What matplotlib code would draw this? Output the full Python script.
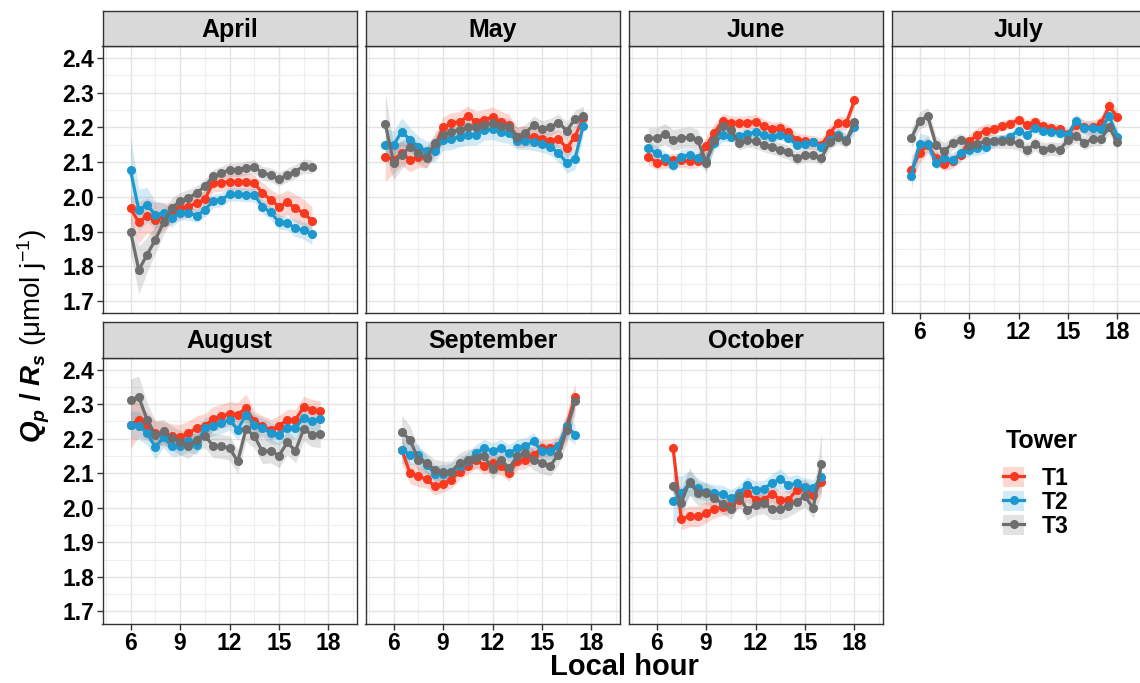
import numpy as np
import matplotlib
matplotlib.use("Agg")
import matplotlib.pyplot as plt
from matplotlib.patches import Patch
from matplotlib.lines import Line2D
from matplotlib.ticker import MultipleLocator

plt.rcParams['font.family'] = ['Liberation Sans', 'DejaVu Sans']
plt.rcParams['mathtext.fontset'] = 'custom'
plt.rcParams['mathtext.rm'] = 'Liberation Sans'
plt.rcParams['mathtext.it'] = 'Liberation Sans:italic'
plt.rcParams['mathtext.bf'] = 'Liberation Sans:bold'
plt.rcParams['mathtext.bfit'] = 'Liberation Sans:italic:bold'

# half-hourly diurnal means of Qp/Rs per tower, with ribbon half-widths
months = ['April', 'May', 'June', 'July', 'August', 'September', 'October']
first_hour = [6.0, 5.5, 5.5, 5.5, 6.0, 6.5, 7.0]
last_hour = [17.0, 17.5, 18.0, 18.0, 17.5, 17.0, 16.0]

apr_t1 = [1.967, 1.926, 1.946, 1.934, 1.943, 1.953, 1.967, 1.972, 1.982, 1.993, 2.039, 2.041,
          2.044, 2.044, 2.044, 2.039, 2.011, 1.991, 1.972, 1.984, 1.967, 1.953, 1.931]
apr_t2 = [2.076, 1.962, 1.977, 1.948, 1.953, 1.938, 1.953, 1.953, 1.946, 1.962, 1.988, 1.991,
          2.008, 2.008, 2.006, 2.006, 1.972, 1.955, 1.927, 1.924, 1.910, 1.903, 1.892]
apr_t3 = [1.900, 1.789, 1.833, 1.876, 1.926, 1.967, 1.987, 1.996, 2.011, 2.030, 2.059, 2.068,
          2.078, 2.078, 2.083, 2.087, 2.068, 2.063, 2.051, 2.063, 2.073, 2.089, 2.086]
apr_se1 = [0.04, 0.06, 0.05, 0.05, 0.04, 0.03, 0.03, 0.03, 0.025, 0.025, 0.025, 0.025,
           0.025, 0.025, 0.025, 0.025, 0.03, 0.03, 0.035, 0.035, 0.04, 0.04, 0.04]
apr_se2 = [0.10, 0.06, 0.05, 0.04, 0.03, 0.025, 0.02, 0.02, 0.02, 0.02, 0.02, 0.02,
           0.02, 0.02, 0.02, 0.02, 0.02, 0.02, 0.02, 0.02, 0.025, 0.025, 0.03]
apr_se3 = [0.06, 0.07, 0.05, 0.04, 0.035, 0.03, 0.025, 0.025, 0.02, 0.02, 0.02, 0.02,
           0.02, 0.02, 0.02, 0.02, 0.02, 0.02, 0.02, 0.02, 0.02, 0.02, 0.02]

may_t1 = [2.116, 2.107, 2.126, 2.107, 2.114, 2.114, 2.145, 2.201, 2.212, 2.217, 2.232, 2.217,
          2.222, 2.230, 2.217, 2.208, 2.172, 2.174, 2.172, 2.166, 2.162, 2.168, 2.140, 2.174, 2.227]
may_t2 = [2.150, 2.150, 2.188, 2.164, 2.145, 2.131, 2.131, 2.164, 2.166, 2.174, 2.179, 2.179,
          2.193, 2.195, 2.188, 2.184, 2.162, 2.162, 2.159, 2.153, 2.145, 2.126, 2.099, 2.109, 2.205]
may_t3 = [2.211, 2.099, 2.121, 2.145, 2.126, 2.112, 2.155, 2.179, 2.188, 2.193, 2.201, 2.201,
          2.208, 2.212, 2.205, 2.201, 2.174, 2.184, 2.208, 2.195, 2.201, 2.214, 2.191, 2.224, 2.232]
may_se1 = [0.07, 0.04, 0.035, 0.035, 0.03, 0.03, 0.03, 0.03, 0.03, 0.03, 0.03, 0.03,
           0.03, 0.03, 0.03, 0.03, 0.03, 0.03, 0.025, 0.025, 0.025, 0.025, 0.03, 0.03, 0.03]
may_se2 = [0.05, 0.04, 0.04, 0.035, 0.03, 0.03, 0.03, 0.03, 0.03, 0.03, 0.03, 0.03,
           0.03, 0.03, 0.03, 0.03, 0.025, 0.025, 0.025, 0.025, 0.025, 0.025, 0.03, 0.03, 0.03]
may_se3 = [0.09, 0.05, 0.04, 0.035, 0.03, 0.03, 0.03, 0.03, 0.025, 0.025, 0.025, 0.025,
           0.025, 0.025, 0.025, 0.025, 0.025, 0.025, 0.025, 0.025, 0.025, 0.025, 0.025, 0.025, 0.03]

jun_t1 = [2.116, 2.099, 2.102, 2.105, 2.105, 2.102, 2.104, 2.147, 2.184, 2.220, 2.214, 2.212, 2.214,
          2.217, 2.205, 2.195, 2.198, 2.186, 2.164, 2.160, 2.157, 2.150, 2.184, 2.212, 2.212, 2.278]
jun_t2 = [2.140, 2.126, 2.112, 2.092, 2.116, 2.121, 2.112, 2.102, 2.155, 2.179, 2.174, 2.176, 2.182,
          2.186, 2.179, 2.172, 2.179, 2.169, 2.150, 2.153, 2.157, 2.143, 2.164, 2.179, 2.164, 2.201]
jun_t3 = [2.169, 2.169, 2.182, 2.164, 2.169, 2.172, 2.164, 2.099, 2.164, 2.205, 2.193, 2.155, 2.164,
          2.160, 2.150, 2.143, 2.136, 2.128, 2.112, 2.121, 2.121, 2.112, 2.157, 2.174, 2.160, 2.217]
jun_se1 = [0.025, 0.02, 0.02, 0.02, 0.02, 0.02, 0.02, 0.025, 0.025, 0.02, 0.02, 0.02, 0.02,
           0.02, 0.02, 0.02, 0.02, 0.02, 0.02, 0.02, 0.02, 0.02, 0.02, 0.02, 0.02, 0.02]
jun_se2 = [0.02, 0.02, 0.02, 0.02, 0.02, 0.02, 0.02, 0.025, 0.02, 0.02, 0.015, 0.015, 0.015,
           0.015, 0.015, 0.015, 0.015, 0.015, 0.015, 0.015, 0.015, 0.015, 0.02, 0.02, 0.02, 0.02]
jun_se3 = [0.03, 0.03, 0.03, 0.03, 0.03, 0.03, 0.03, 0.03, 0.025, 0.02, 0.02, 0.02, 0.02,
           0.02, 0.02, 0.02, 0.02, 0.02, 0.02, 0.02, 0.02, 0.02, 0.02, 0.02, 0.02, 0.02]

jul_t1 = [2.078, 2.126, 2.150, 2.112, 2.095, 2.102, 2.121, 2.160, 2.179, 2.191, 2.195, 2.205, 2.211,
          2.222, 2.208, 2.217, 2.205, 2.198, 2.195, 2.182, 2.208, 2.201, 2.201, 2.212, 2.261, 2.230]
jul_t2 = [2.061, 2.153, 2.153, 2.099, 2.112, 2.105, 2.126, 2.136, 2.140, 2.145, 2.160, 2.164, 2.174,
          2.191, 2.179, 2.198, 2.191, 2.188, 2.184, 2.179, 2.220, 2.198, 2.198, 2.195, 2.232, 2.174]
jul_t3 = [2.169, 2.220, 2.232, 2.150, 2.131, 2.155, 2.164, 2.147, 2.153, 2.160, 2.160, 2.160, 2.160,
          2.155, 2.134, 2.153, 2.136, 2.140, 2.136, 2.164, 2.176, 2.155, 2.167, 2.167, 2.201, 2.157]
jul_se1 = [0.04, 0.03, 0.025, 0.02, 0.02, 0.02, 0.02, 0.02, 0.02, 0.02, 0.015, 0.015, 0.015,
           0.015, 0.015, 0.015, 0.015, 0.015, 0.015, 0.015, 0.02, 0.02, 0.02, 0.02, 0.025, 0.02]
jul_se2 = [0.04, 0.03, 0.025, 0.02, 0.02, 0.02, 0.02, 0.02, 0.02, 0.02, 0.015, 0.015, 0.015,
           0.015, 0.015, 0.015, 0.015, 0.015, 0.015, 0.015, 0.02, 0.02, 0.02, 0.02, 0.02, 0.02]
jul_se3 = [0.03, 0.025, 0.025, 0.025, 0.025, 0.02, 0.02, 0.02, 0.02, 0.02, 0.02, 0.02, 0.02,
           0.02, 0.02, 0.02, 0.02, 0.02, 0.02, 0.02, 0.02, 0.02, 0.02, 0.02, 0.02, 0.02]

aug_t1 = [2.241, 2.255, 2.236, 2.216, 2.214, 2.208, 2.206, 2.216, 2.231, 2.237, 2.257, 2.265,
          2.272, 2.270, 2.289, 2.250, 2.237, 2.226, 2.237, 2.255, 2.255, 2.292, 2.284, 2.279]
aug_t2 = [2.241, 2.238, 2.216, 2.176, 2.204, 2.178, 2.180, 2.192, 2.183, 2.231, 2.238, 2.245,
          2.255, 2.226, 2.270, 2.241, 2.231, 2.216, 2.212, 2.231, 2.231, 2.260, 2.250, 2.257]
aug_t3 = [2.313, 2.321, 2.255, 2.212, 2.221, 2.202, 2.189, 2.178, 2.197, 2.209, 2.180, 2.178,
          2.173, 2.134, 2.228, 2.208, 2.163, 2.165, 2.151, 2.189, 2.165, 2.228, 2.212, 2.214]
aug_se1 = [0.07, 0.05, 0.04, 0.035, 0.035, 0.035, 0.035, 0.035, 0.035, 0.035, 0.035, 0.035,
           0.035, 0.035, 0.04, 0.03, 0.03, 0.03, 0.03, 0.03, 0.03, 0.03, 0.03, 0.03]
aug_se2 = [0.04, 0.04, 0.035, 0.035, 0.03, 0.03, 0.03, 0.03, 0.03, 0.03, 0.03, 0.03,
           0.03, 0.03, 0.03, 0.03, 0.03, 0.03, 0.03, 0.03, 0.03, 0.03, 0.03, 0.03]
aug_se3 = [0.06, 0.06, 0.05, 0.04, 0.035, 0.035, 0.035, 0.035, 0.035, 0.035, 0.035, 0.035,
           0.035, 0.035, 0.035, 0.035, 0.035, 0.035, 0.035, 0.035, 0.035, 0.035, 0.035, 0.04]

sep_t1 = [2.168, 2.100, 2.091, 2.083, 2.062, 2.070, 2.081, 2.105, 2.122, 2.139, 2.122,
          2.129, 2.120, 2.102, 2.134, 2.139, 2.154, 2.173, 2.173, 2.178, 2.236, 2.321]
sep_t2 = [2.168, 2.154, 2.154, 2.125, 2.099, 2.099, 2.105, 2.120, 2.134, 2.158, 2.173,
          2.163, 2.173, 2.158, 2.173, 2.178, 2.192, 2.163, 2.163, 2.178, 2.236, 2.212]
sep_t3 = [2.218, 2.197, 2.139, 2.129, 2.110, 2.105, 2.105, 2.129, 2.139, 2.144, 2.149,
          2.112, 2.139, 2.115, 2.149, 2.160, 2.139, 2.129, 2.122, 2.154, 2.226, 2.308]
sep_se1 = [0.04, 0.03, 0.03, 0.025, 0.025, 0.025, 0.025, 0.025, 0.025, 0.025, 0.025,
           0.025, 0.025, 0.025, 0.025, 0.025, 0.025, 0.025, 0.025, 0.03, 0.04, 0.04]
sep_se2 = [0.04, 0.03, 0.03, 0.025, 0.025, 0.025, 0.025, 0.025, 0.025, 0.025, 0.025,
           0.025, 0.025, 0.025, 0.025, 0.025, 0.025, 0.025, 0.025, 0.025, 0.03, 0.03]
sep_se3 = [0.05, 0.04, 0.035, 0.03, 0.03, 0.03, 0.03, 0.03, 0.03, 0.03, 0.03,
           0.03, 0.03, 0.03, 0.03, 0.03, 0.03, 0.03, 0.03, 0.03, 0.04, 0.04]

oct_t1 = [2.173, 1.967, 1.975, 1.975, 1.986, 1.996, 2.002, 2.009, 2.023, 2.043,
          2.023, 2.023, 2.041, 2.023, 2.023, 2.052, 2.057, 2.038, 2.076]
oct_t2 = [2.020, 2.042, 2.071, 2.056, 2.047, 2.042, 2.040, 2.028, 2.042, 2.066,
          2.052, 2.054, 2.073, 2.083, 2.066, 2.071, 2.061, 2.057, 2.089]
oct_t3 = [2.062, 2.015, 2.076, 2.042, 2.042, 2.028, 2.012, 1.996, 2.033, 1.994,
          2.009, 2.013, 1.996, 1.996, 2.004, 2.018, 2.033, 1.999, 2.128]
oct_se1 = [0.04, 0.03, 0.03, 0.03, 0.03, 0.025, 0.025, 0.025, 0.025, 0.025,
           0.025, 0.025, 0.025, 0.025, 0.025, 0.025, 0.025, 0.025, 0.03]
oct_se2 = [0.08, 0.05, 0.035, 0.03, 0.025, 0.025, 0.025, 0.025, 0.025, 0.025,
           0.025, 0.025, 0.025, 0.03, 0.025, 0.025, 0.025, 0.025, 0.03]
oct_se3 = [0.04, 0.04, 0.04, 0.035, 0.03, 0.03, 0.03, 0.03, 0.03, 0.03,
           0.03, 0.03, 0.03, 0.03, 0.03, 0.03, 0.03, 0.03, 0.09]

towers = ['T1', 'T2', 'T3']
colors = ['#F8381F', '#1C98CF', '#6E6E6E']

series = [
    (apr_t1, apr_t2, apr_t3, apr_se1, apr_se2, apr_se3),
    (may_t1, may_t2, may_t3, may_se1, may_se2, may_se3),
    (jun_t1, jun_t2, jun_t3, jun_se1, jun_se2, jun_se3),
    (jul_t1, jul_t2, jul_t3, jul_se1, jul_se2, jul_se3),
    (aug_t1, aug_t2, aug_t3, aug_se1, aug_se2, aug_se3),
    (sep_t1, sep_t2, sep_t3, sep_se1, sep_se2, sep_se3),
    (oct_t1, oct_t2, oct_t3, oct_se1, oct_se2, oct_se3),
]

W, H = 1140, 683
fig = plt.figure(figsize=(W / 100, H / 100), dpi=100)

col_left = [102.5, 365.5, 628.5, 891.5]
panel_w = 254
rows = [(46, 313, 11), (357.5, 623.5, 322)]   # panel top, panel bottom, strip top (px)

edge = '#333333'
for i, name in enumerate(months):
    r, c = divmod(i, 4)
    top, bot, stop = rows[r]
    x0 = col_left[c]
    ax = fig.add_axes([x0 / W, (H - bot) / H, panel_w / W, (bot - top) / H])
    st = fig.add_axes([x0 / W, (H - top) / H, panel_w / W, (top - stop) / H])

    t1, t2, t3, s1, s2, s3 = series[i]
    hours = np.arange(first_hour[i], last_hour[i] + 0.25, 0.5)
    for vals, se, col in zip((t1, t2, t3), (s1, s2, s3), colors):
        v = np.array(vals)
        e = np.array(se)
        ax.fill_between(hours, v - e, v + e, color=col, alpha=0.2, lw=0, zorder=2)
    for vals, col in zip((t1, t2, t3), colors):
        ax.plot(hours, vals, color=col, lw=2.3, marker='o', ms=5.5, zorder=3)

    ax.set_xlim(4.3, 19.7)
    ax.set_ylim(1.665, 2.435)
    ax.xaxis.set_minor_locator(MultipleLocator(1.5))
    ax.yaxis.set_major_locator(MultipleLocator(0.1))
    ax.yaxis.set_minor_locator(MultipleLocator(0.05))
    ax.set_xticks([6, 9, 12, 15, 18])
    ax.grid(which='major', color='#E4E4E4', lw=1.0, zorder=0)
    ax.grid(which='minor', color='#EEEEEE', lw=0.8, zorder=0)
    ax.set_axisbelow(True)
    for sp in ax.spines.values():
        sp.set_color(edge)
        sp.set_linewidth(1.0)
    ax.tick_params(which='minor', length=0)
    ax.tick_params(which='major', length=4, width=1.0, color=edge, pad=2,
                   labelsize=16.5)

    show_x = (r == 1) or (c == 3)
    if not show_x:
        ax.tick_params(axis='x', length=0, labelbottom=False)
    if c != 0:
        ax.tick_params(axis='y', length=0, labelleft=False)
    else:
        ax.set_yticklabels(['%.1f' % t for t in ax.get_yticks()])
    for lab in ax.get_xticklabels() + ax.get_yticklabels():
        lab.set_fontweight('bold')

    st.set_facecolor('#D9D9D9')
    st.set_xticks([])
    st.set_yticks([])
    for sp in st.spines.values():
        sp.set_color(edge)
        sp.set_linewidth(1.0)
    st.text(0.5, 0.47, name, transform=st.transAxes, ha='center', va='center',
            fontsize=18, fontweight='bold')

fig.text(624 / W, 1 - 667 / H, 'Local hour', ha='center', va='center',
         fontsize=21, fontweight='bold')
fig.text(34 / W, 1 - 336 / H,
         r'$\mathbfit{Q}_{\mathbfit{p}}\ \mathbf{/}\ \mathbfit{R}_{\mathbfit{s}}\ \mathrm{(\mu mol\ j^{-1})}$',
         rotation=90, ha='center', va='center', fontsize=20)

# legend: title placed separately so the keys can sit a little left of it
fig.text(1006 / W, 1 - 441 / H, 'Tower', ha='left', va='center',
         fontsize=18, fontweight='bold')
handles = []
for col in colors:
    patch = Patch(facecolor=col, alpha=0.2, edgecolor='none')
    line = Line2D([], [], color=col, lw=2.3, marker='o', ms=5.5)
    handles.append((patch, line))
leg = fig.legend(handles, towers, loc='upper left',
                 bbox_to_anchor=(982 / W, 1 - 446 / H), frameon=False,
                 fontsize=16.5, handlelength=0.95, handleheight=1.0,
                 labelspacing=0.04, handletextpad=0.75, borderpad=0.4)
for t in leg.get_texts():
    t.set_fontweight('bold')

fig.savefig('out.png', dpi=100)
